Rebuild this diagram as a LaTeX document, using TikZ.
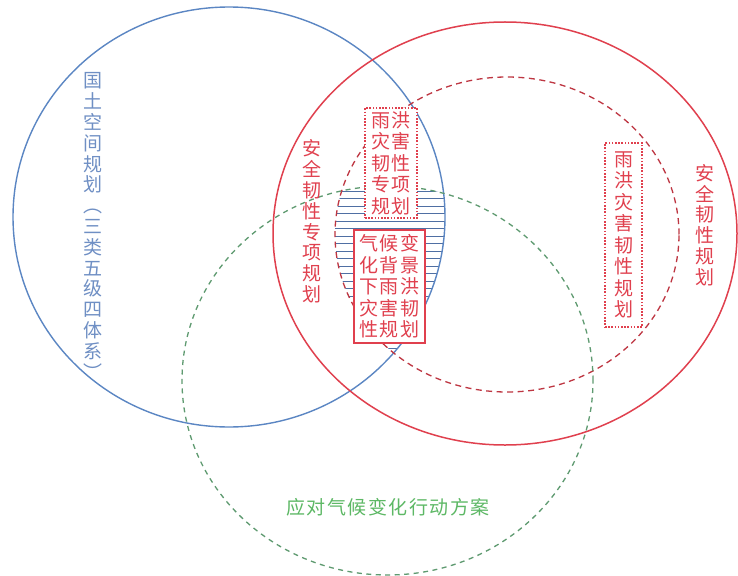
\documentclass[tikz,border=0pt]{standalone}
\usepackage{fontspec}
\newfontfamily\cjk{Noto Sans CJK SC}
\newfontfamily\cjkls[LetterSpace=8]{Noto Sans CJK SC}
\definecolor{cblue}{HTML}{5B86C3}
\definecolor{cred}{HTML}{E0404E}
\definecolor{cgreen}{HTML}{5E9A70}
\definecolor{tgreen}{HTML}{5DB865}
\definecolor{tblue}{HTML}{6F8FC4}
\definecolor{hatchc}{HTML}{4F6FA3}
\tikzset{
  bluecirc/.style={draw=cblue, line width=1.4pt},
  redcirc/.style={draw=cred, line width=1.5pt},
  reddash/.style={draw=cred!85!black, line width=1.3pt, dash pattern=on 6pt off 4.5pt},
  greendash/.style={draw=cgreen, line width=1.3pt, dash pattern=on 5pt off 4.5pt},
  hatch/.style={draw=hatchc, line width=1pt},
  vtxt/.style={align=center, inner sep=0pt, font={\cjk\fontsize{19}{20.8}\selectfont}},
  dotbox/.style={draw=cred, line width=1.2pt, dash pattern=on 1.6pt off 1.6pt, fill=white, inner sep=0pt, align=center, text=cred, font={\cjkls\fontsize{19}{21.5}\selectfont}},
  solidbox/.style={draw=cred, line width=1.3pt, fill=white, inner sep=0pt, align=center, text=cred, font={\cjkls\fontsize{19}{21.5}\selectfont}}
}
\begin{document}
\begin{tikzpicture}[x=1pt,y=-1pt]
\useasboundingbox (0,0) rectangle (738,575);
\fill[white] (0,0) rectangle (738,575);
% hatched intersection
\begin{scope}
  \clip (229,217) ellipse [x radius=216pt, y radius=210pt];
  \clip (507,234.5) ellipse [x radius=172pt, y radius=157.5pt];
  \clip (387.5,380.5) ellipse [x radius=205.5pt, y radius=194.5pt];
  \foreach \yy in {191,198.5,...,356} \draw[hatch] (300,\yy) -- (460,\yy);
\end{scope}
% circles
\draw[bluecirc] (229,217) ellipse [x radius=216pt, y radius=210pt];
\draw[redcirc] (505,233.5) ellipse [x radius=232pt, y radius=211.5pt];
\draw[reddash] (507,234.5) ellipse [x radius=172pt, y radius=157.5pt];
\draw[greendash] (387.5,380.5) ellipse [x radius=205.5pt, y radius=194.5pt];
% labels
\node[vtxt, text=tblue] (gtkj) at (93,226) {国\\土\\空\\间\\规\\划\\︵\\三\\类\\五\\级\\四\\体\\系\\︶};
\node[vtxt, text=cred] (aqzx) at (312,221.5) {安\\全\\韧\\性\\专\\项\\规\\划};
\node[vtxt, text=cred] (aqgh) at (705,225) {安\\全\\韧\\性\\规\\划};
\node[text=tgreen, inner sep=0pt, font={\cjkls\fontsize{19}{21}\selectfont}] (ydqh) at (388,507) {应对气候变化行动方案};
% boxes
\node[dotbox, minimum width=52pt, minimum height=110pt] (b1) at (391,163) {雨洪\\灾害\\韧性\\专项\\规划};
\node[solidbox, minimum width=71pt, minimum height=113pt] (b2) at (389.5,286.5) {气候变\\化背景\\下雨洪\\灾害韧\\性规划};
\node[dotbox, minimum width=37pt, minimum height=184pt] (b3) at (623.5,235) {雨\\洪\\灾\\害\\韧\\性\\规\\划};
\end{tikzpicture}
\end{document}
